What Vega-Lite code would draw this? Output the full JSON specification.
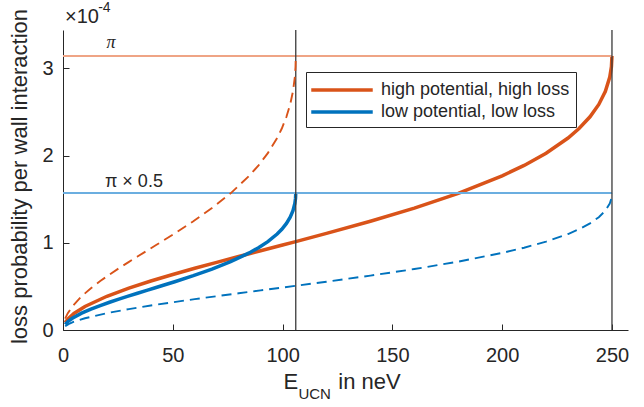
{
  "$schema": "https://vega.github.io/schema/vega-lite/v6.json",
  "width": 565,
  "height": 300,
  "autosize": {"type": "none"},
  "padding": {"left": 63, "top": 30, "right": 16, "bottom": 77},
  "config": {
    "font": "Liberation Sans",
    "view": {"stroke": null},
    "axis": {
      "domainColor": "#262626", "tickColor": "#262626", "labelColor": "#262626", "titleColor": "#262626",
      "labelFont": "Liberation Sans", "titleFont": "Liberation Sans", "labelFontSize": 20, "titleFontSize": 22,
      "titleFontWeight": "normal", "grid": false, "tickSize": -6, "domainWidth": 1, "tickWidth": 1, "labelFlush": false
    },
    "text": {"font": "Liberation Sans", "color": "#262626"}
  },
  "datasets": {
    "curves": [
      {"curve": "high potential, high loss", "E": 1, "loss": 0.0844},
      {"curve": "high potential, high loss", "E": 2.5, "loss": 0.1337},
      {"curve": "high potential, high loss", "E": 5, "loss": 0.1897},
      {"curve": "high potential, high loss", "E": 10, "loss": 0.2699},
      {"curve": "high potential, high loss", "E": 20, "loss": 0.3866},
      {"curve": "high potential, high loss", "E": 30, "loss": 0.4797},
      {"curve": "high potential, high loss", "E": 40, "loss": 0.5614},
      {"curve": "high potential, high loss", "E": 50, "loss": 0.6365},
      {"curve": "high potential, high loss", "E": 60, "loss": 0.7074},
      {"curve": "high potential, high loss", "E": 70, "loss": 0.7757},
      {"curve": "high potential, high loss", "E": 80, "loss": 0.8424},
      {"curve": "high potential, high loss", "E": 90, "loss": 0.9083},
      {"curve": "high potential, high loss", "E": 100, "loss": 0.9741},
      {"curve": "high potential, high loss", "E": 106, "loss": 1.0138},
      {"curve": "high potential, high loss", "E": 120, "loss": 1.1075},
      {"curve": "high potential, high loss", "E": 140, "loss": 1.2470},
      {"curve": "high potential, high loss", "E": 160, "loss": 1.3978},
      {"curve": "high potential, high loss", "E": 180, "loss": 1.5672},
      {"curve": "high potential, high loss", "E": 200, "loss": 1.7679},
      {"curve": "high potential, high loss", "E": 210, "loss": 1.8873},
      {"curve": "high potential, high loss", "E": 220, "loss": 2.0275},
      {"curve": "high potential, high loss", "E": 230, "loss": 2.2016},
      {"curve": "high potential, high loss", "E": 235, "loss": 2.3103},
      {"curve": "high potential, high loss", "E": 240, "loss": 2.4448},
      {"curve": "high potential, high loss", "E": 244, "loss": 2.5865},
      {"curve": "high potential, high loss", "E": 247, "loss": 2.7371},
      {"curve": "high potential, high loss", "E": 249, "loss": 2.9004},
      {"curve": "high potential, high loss", "E": 249.75, "loss": 3.0181},
      {"curve": "high potential, high loss", "E": 250, "loss": 3.1416},

      {"curve": "low potential, low loss", "E": 1, "loss": 0.0650},
      {"curve": "low potential, low loss", "E": 2.12, "loss": 0.0949},
      {"curve": "low potential, low loss", "E": 4.24, "loss": 0.1350},
      {"curve": "low potential, low loss", "E": 8.48, "loss": 0.1933},
      {"curve": "low potential, low loss", "E": 12.72, "loss": 0.2398},
      {"curve": "low potential, low loss", "E": 16.96, "loss": 0.2807},
      {"curve": "low potential, low loss", "E": 21.2, "loss": 0.3182},
      {"curve": "low potential, low loss", "E": 25.44, "loss": 0.3537},
      {"curve": "low potential, low loss", "E": 29.68, "loss": 0.3878},
      {"curve": "low potential, low loss", "E": 33.92, "loss": 0.4212},
      {"curve": "low potential, low loss", "E": 38.16, "loss": 0.4542},
      {"curve": "low potential, low loss", "E": 42.4, "loss": 0.4871},
      {"curve": "low potential, low loss", "E": 44.94, "loss": 0.5069},
      {"curve": "low potential, low loss", "E": 50.88, "loss": 0.5537},
      {"curve": "low potential, low loss", "E": 59.36, "loss": 0.6235},
      {"curve": "low potential, low loss", "E": 67.84, "loss": 0.6989},
      {"curve": "low potential, low loss", "E": 76.32, "loss": 0.7836},
      {"curve": "low potential, low loss", "E": 84.8, "loss": 0.8839},
      {"curve": "low potential, low loss", "E": 89.04, "loss": 0.9436},
      {"curve": "low potential, low loss", "E": 93.28, "loss": 1.0137},
      {"curve": "low potential, low loss", "E": 97.52, "loss": 1.1008},
      {"curve": "low potential, low loss", "E": 99.64, "loss": 1.1551},
      {"curve": "low potential, low loss", "E": 101.76, "loss": 1.2224},
      {"curve": "low potential, low loss", "E": 103.46, "loss": 1.2932},
      {"curve": "low potential, low loss", "E": 104.73, "loss": 1.3686},
      {"curve": "low potential, low loss", "E": 105.58, "loss": 1.4502},
      {"curve": "low potential, low loss", "E": 105.89, "loss": 1.5091},
      {"curve": "low potential, low loss", "E": 106, "loss": 1.5708},

      {"curve": "low potential, high loss", "E": 1, "loss": 0.1299},
      {"curve": "low potential, high loss", "E": 2.12, "loss": 0.1897},
      {"curve": "low potential, high loss", "E": 4.24, "loss": 0.2699},
      {"curve": "low potential, high loss", "E": 8.48, "loss": 0.3866},
      {"curve": "low potential, high loss", "E": 12.72, "loss": 0.4797},
      {"curve": "low potential, high loss", "E": 16.96, "loss": 0.5614},
      {"curve": "low potential, high loss", "E": 21.2, "loss": 0.6365},
      {"curve": "low potential, high loss", "E": 25.44, "loss": 0.7074},
      {"curve": "low potential, high loss", "E": 29.68, "loss": 0.7757},
      {"curve": "low potential, high loss", "E": 33.92, "loss": 0.8424},
      {"curve": "low potential, high loss", "E": 38.16, "loss": 0.9083},
      {"curve": "low potential, high loss", "E": 42.4, "loss": 0.9741},
      {"curve": "low potential, high loss", "E": 44.94, "loss": 1.0138},
      {"curve": "low potential, high loss", "E": 50.88, "loss": 1.1075},
      {"curve": "low potential, high loss", "E": 59.36, "loss": 1.2470},
      {"curve": "low potential, high loss", "E": 67.84, "loss": 1.3978},
      {"curve": "low potential, high loss", "E": 76.32, "loss": 1.5672},
      {"curve": "low potential, high loss", "E": 84.8, "loss": 1.7679},
      {"curve": "low potential, high loss", "E": 89.04, "loss": 1.8873},
      {"curve": "low potential, high loss", "E": 93.28, "loss": 2.0275},
      {"curve": "low potential, high loss", "E": 97.52, "loss": 2.2016},
      {"curve": "low potential, high loss", "E": 99.64, "loss": 2.3103},
      {"curve": "low potential, high loss", "E": 101.76, "loss": 2.4448},
      {"curve": "low potential, high loss", "E": 103.46, "loss": 2.5865},
      {"curve": "low potential, high loss", "E": 104.73, "loss": 2.7371},
      {"curve": "low potential, high loss", "E": 105.58, "loss": 2.9004},
      {"curve": "low potential, high loss", "E": 105.89, "loss": 3.0181},
      {"curve": "low potential, high loss", "E": 106, "loss": 3.1416},

      {"curve": "high potential, low loss", "E": 1, "loss": 0.0422},
      {"curve": "high potential, low loss", "E": 2.5, "loss": 0.0669},
      {"curve": "high potential, low loss", "E": 5, "loss": 0.0949},
      {"curve": "high potential, low loss", "E": 10, "loss": 0.1350},
      {"curve": "high potential, low loss", "E": 20, "loss": 0.1933},
      {"curve": "high potential, low loss", "E": 30, "loss": 0.2398},
      {"curve": "high potential, low loss", "E": 40, "loss": 0.2807},
      {"curve": "high potential, low loss", "E": 50, "loss": 0.3182},
      {"curve": "high potential, low loss", "E": 60, "loss": 0.3537},
      {"curve": "high potential, low loss", "E": 70, "loss": 0.3878},
      {"curve": "high potential, low loss", "E": 80, "loss": 0.4212},
      {"curve": "high potential, low loss", "E": 90, "loss": 0.4542},
      {"curve": "high potential, low loss", "E": 100, "loss": 0.4871},
      {"curve": "high potential, low loss", "E": 106, "loss": 0.5069},
      {"curve": "high potential, low loss", "E": 120, "loss": 0.5537},
      {"curve": "high potential, low loss", "E": 140, "loss": 0.6235},
      {"curve": "high potential, low loss", "E": 160, "loss": 0.6989},
      {"curve": "high potential, low loss", "E": 180, "loss": 0.7836},
      {"curve": "high potential, low loss", "E": 200, "loss": 0.8839},
      {"curve": "high potential, low loss", "E": 210, "loss": 0.9436},
      {"curve": "high potential, low loss", "E": 220, "loss": 1.0137},
      {"curve": "high potential, low loss", "E": 230, "loss": 1.1008},
      {"curve": "high potential, low loss", "E": 235, "loss": 1.1551},
      {"curve": "high potential, low loss", "E": 240, "loss": 1.2224},
      {"curve": "high potential, low loss", "E": 244, "loss": 1.2932},
      {"curve": "high potential, low loss", "E": 247, "loss": 1.3686},
      {"curve": "high potential, low loss", "E": 249, "loss": 1.4502},
      {"curve": "high potential, low loss", "E": 249.75, "loss": 1.5091},
      {"curve": "high potential, low loss", "E": 250, "loss": 1.5708}
    ],
    "limits": [
      {"label": "π", "loss": 3.1416},
      {"label": "π × 0.5", "loss": 1.5708}
    ],
    "walls": [
      {"V": 106},
      {"V": 250}
    ]
  },
  "resolve": {"scale": {"color": "independent"}},
  "layer": [
    {
      "data": {"name": "curves"},
      "transform": [{"filter": {"field": "curve", "oneOf": ["high potential, high loss", "low potential, low loss"]}}],
      "mark": {"type": "line", "strokeWidth": 3.5},
      "encoding": {
        "x": {"field": "E", "type": "quantitative",
              "scale": {"domain": [0, 257.3], "nice": false, "zero": false},
              "axis": {"title": null, "values": [0, 50, 100, 150, 200, 250], "format": "d", "labelPadding": 21, "labelBaseline": "top", "labelFlush": false}},
        "y": {"field": "loss", "type": "quantitative",
              "scale": {"domain": [0, 3.44], "nice": false},
              "axis": {"title": "loss probability per wall interaction", "values": [0, 1, 2, 3], "format": "d", "labelPadding": 16, "labelFlush": false,
                       "titleX": -44, "titleY": 146, "titleAngle": -90, "titleAlign": "center", "titleBaseline": "middle"}},
        "color": {"field": "curve", "type": "nominal",
                  "scale": {"domain": ["high potential, high loss", "low potential, low loss"], "range": ["#D95319", "#0072BD"]},
                  "legend": {"title": null, "orient": "none", "legendX": 243, "legendY": 42,
                             "symbolType": "M-3,0H3", "symbolSize": 420, "symbolStrokeWidth": 3.5,
                             "symbolOffset": 18, "labelOffset": 27, "labelLimit": 400,
                             "labelFont": "Liberation Sans", "labelFontSize": 18, "labelColor": "#262626",
                             "strokeColor": "#262626", "fillColor": "white", "padding": 6, "rowPadding": 1}}
      }
    },
    {
      "data": {"name": "limits"},
      "mark": {"type": "rule", "strokeWidth": 2},
      "encoding": {
        "x": {"datum": 0, "type": "quantitative"},
        "x2": {"datum": 250},
        "y": {"field": "loss", "type": "quantitative"},
        "color": {"field": "label", "type": "nominal",
                  "scale": {"domain": ["π", "π × 0.5"], "range": ["#EFA485", "#6BAEE0"]}, "legend": null}
      }
    },
    {
      "data": {"name": "walls"},
      "mark": {"type": "rule", "strokeWidth": 1.3, "color": "#3a3a3a"},
      "encoding": {"x": {"field": "V", "type": "quantitative"}}
    },
    {
      "data": {"name": "curves"},
      "transform": [{"filter": {"field": "curve", "oneOf": ["low potential, high loss", "high potential, low loss"]}}],
      "mark": {"type": "line", "strokeWidth": 1.9, "strokeDash": [10, 6]},
      "encoding": {
        "x": {"field": "E", "type": "quantitative"},
        "y": {"field": "loss", "type": "quantitative"},
        "color": {"field": "curve", "type": "nominal",
                  "scale": {"domain": ["low potential, high loss", "high potential, low loss"], "range": ["#D95319", "#0072BD"]},
                  "legend": null}
      }
    },
    {
      "data": {"values": [{"note": "π"}]},
      "mark": {"type": "text", "fontSize": 18, "align": "center", "baseline": "middle", "font": "Liberation Serif", "fontStyle": "italic"},
      "encoding": {"x": {"datum": 21.9, "type": "quantitative"}, "y": {"datum": 3.29, "type": "quantitative"}, "text": {"field": "note"}}
    },
    {
      "data": {"values": [{"note": "π × 0.5"}]},
      "mark": {"type": "text", "fontSize": 18, "align": "left", "baseline": "middle"},
      "encoding": {"x": {"datum": 19.1, "type": "quantitative"}, "y": {"datum": 1.70, "type": "quantitative"}, "text": {"field": "note"}}
    },
    {
      "data": {"values": [{"note": "×10"}]},
      "mark": {"type": "text", "fontSize": 20, "align": "left", "baseline": "middle"},
      "encoding": {"x": {"datum": 0.9, "type": "quantitative"}, "y": {"datum": 3.585, "type": "quantitative"}, "text": {"field": "note"}}
    },
    {
      "data": {"values": [{"note": "-4"}]},
      "mark": {"type": "text", "fontSize": 14, "align": "left", "baseline": "middle"},
      "encoding": {"x": {"datum": 16.0, "type": "quantitative"}, "y": {"datum": 3.69, "type": "quantitative"}, "text": {"field": "note"}}
    },
    {
      "data": {"values": [{"note": "E"}]},
      "mark": {"type": "text", "fontSize": 22, "align": "left", "baseline": "alphabetic"},
      "encoding": {"x": {"datum": 100.4, "type": "quantitative"}, "y": {"datum": -0.672, "type": "quantitative"}, "text": {"field": "note"}}
    },
    {
      "data": {"values": [{"note": "UCN"}]},
      "mark": {"type": "text", "fontSize": 15, "align": "left", "baseline": "alphabetic"},
      "encoding": {"x": {"datum": 107.2, "type": "quantitative"}, "y": {"datum": -0.786, "type": "quantitative"}, "text": {"field": "note"}}
    },
    {
      "data": {"values": [{"note": "in neV"}]},
      "mark": {"type": "text", "fontSize": 22, "align": "left", "baseline": "alphabetic"},
      "encoding": {"x": {"datum": 125.4, "type": "quantitative"}, "y": {"datum": -0.672, "type": "quantitative"}, "text": {"field": "note"}}
    }
  ]
}
